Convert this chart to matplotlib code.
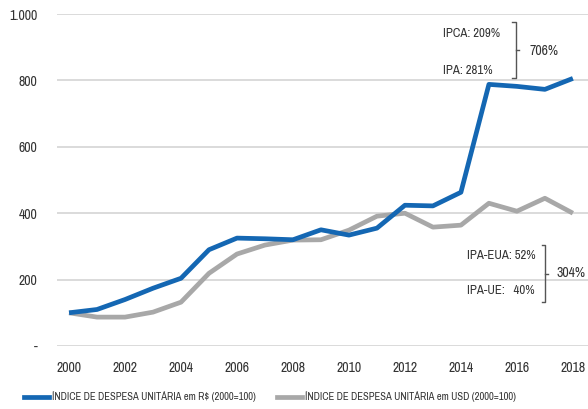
import matplotlib
matplotlib.use("Agg")
import matplotlib.pyplot as plt
from matplotlib import font_manager

# --- Data ---
years = list(range(2000, 2019))
idx_brl = [100, 110, 140, 174, 204, 290, 325, 323, 320, 350, 334, 355,
           424, 422, 463, 788, 782, 773, 806]
idx_usd = [100, 87, 87, 102, 132, 219, 277, 304, 319, 320, 349, 391,
           400, 358, 364, 430, 406, 445, 400]
label_brl = "ÍNDICE DE DESPESA UNITÁRIA em R$ (2000=100)"
label_usd = "ÍNDICE DE DESPESA UNITÁRIA em USD (2000=100)"
y_ticks = [0, 200, 400, 600, 800, 1000]
y_ticklabels = ["-", "200", "400", "600", "800", "1.000"]
x_ticks = list(range(2000, 2019, 2))

# look for a narrow / condensed face
narrow = [f for f in font_manager.fontManager.ttflist
          if ("narrow" in f.fname.lower() or "condensed" in f.fname.lower())
          and "bold" not in f.fname.lower() and "italic" not in f.fname.lower()
          and "oblique" not in f.fname.lower() and "light" not in f.fname.lower()]
scale = 1.0
if narrow:
    pick = sorted(narrow, key=lambda f: ("narrow" not in f.fname.lower(), f.fname))[0]
    plt.rcParams["font.family"] = [pick.name, "DejaVu Sans"]
    plt.rcParams["font.stretch"] = pick.stretch
else:
    scale = 0.85
fs_tick = 10 * scale
fs_note = 9.2 * scale
fs_leg = 7.6 * scale
txt = "#333333"

fig = plt.figure(figsize=(5.88, 4.09), dpi=100)
ax = fig.add_axes([57 / 588, 63 / 409, 531 / 588, 332 / 409])

ax.plot(years, idx_brl, color="#1467b3", lw=3.4, solid_capstyle="butt", zorder=3)
ax.plot(years, idx_usd, color="#a8a8a8", lw=3.4, solid_capstyle="butt", zorder=2)

ax.set_xlim(1999.57, 2018.54)
ax.set_ylim(0, 1000)
ax.set_yticks(y_ticks)
ax.set_yticklabels(y_ticklabels)
ax.set_xticks(x_ticks)
ax.tick_params(length=0, labelsize=fs_tick, colors=txt)
ax.tick_params(axis="y", pad=14)
ax.tick_params(axis="x", pad=11)
ax.grid(axis="y", color="#d4d4d4", lw=1.2)
ax.set_axisbelow(True)
for s in ax.spines.values():
    s.set_visible(False)

# --- Annotations ---
def bracket(x, y0, y1, hook=0.12, tick=0.1):
    ym = (y0 + y1) / 2
    ax.plot([x - hook, x, x, x - hook], [y1, y1, y0, y0], color="#555555", lw=1, clip_on=False)
    ax.plot([x, x + tick], [ym, ym], color="#555555", lw=1, clip_on=False)

ax.text(2013.36, 941, "IPCA: 209%", fontsize=fs_note, color=txt, va="center")
ax.text(2013.36, 830, "IPA: 281%", fontsize=fs_note, color=txt, va="center")
bracket(2015.96, 806, 977)
ax.text(2016.46, 890, "706%", fontsize=fs_tick, color=txt, va="center")

ax.text(2014.2, 274, "IPA-EUA: 52%", fontsize=fs_note, color=txt, va="center")
ax.text(2014.2, 168, "IPA-UE:   40%", fontsize=fs_note, color=txt, va="center")
bracket(2017.0, 132, 304)
ax.text(2017.4, 220, "304%", fontsize=fs_tick, color=txt, va="center")

# --- Legend ---
h1, = ax.plot([], [], color="#1467b3", lw=3.4, label=label_brl)
h2, = ax.plot([], [], color="#a8a8a8", lw=3.4, label=label_usd)
fig.legend(handles=[h1, h2], loc="center left", bbox_to_anchor=(14 / 588, 12 / 409), ncol=2,
           frameon=False, fontsize=fs_leg, handlelength=2.4, columnspacing=2.0,
           handletextpad=0.3, labelcolor=txt)

fig.savefig("out.png", dpi=100)
